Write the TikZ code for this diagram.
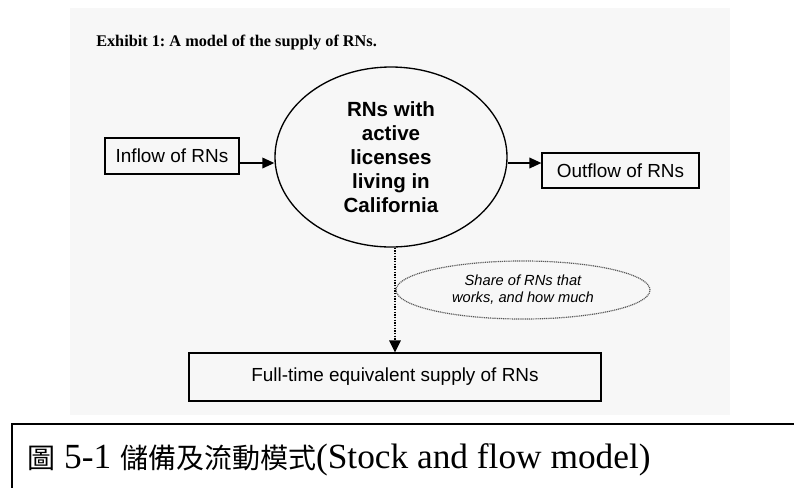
\documentclass[tikz,border=0pt]{standalone}
\usepackage{fontspec}
\setmainfont{Liberation Serif}
\setsansfont{Liberation Sans}
\newfontfamily\cjkfont{Noto Sans CJK TC}
\usetikzlibrary{arrows.meta,shapes.geometric}
\frenchspacing

\tikzset{
  flowbox/.style={draw, line width=0.9pt, inner sep=0pt, font=\sffamily\fontsize{14.2}{17}\selectfont},
  stockshape/.style={draw, ellipse, line width=1pt, inner sep=0pt, align=center,
    font=\sffamily\bfseries\fontsize{15.4}{18}\selectfont},
  noteshape/.style={draw=black!65, ellipse, line width=0.9pt, dash pattern=on 0.8pt off 0.6pt,
    inner sep=0pt, align=center, font=\sffamily\itshape\fontsize{11}{12.8}\selectfont},
  flowarrow/.style={line width=1.1pt, -{Triangle[length=9pt,width=8pt]}},
  dotarrow/.style={line width=1.6pt, dash pattern=on 1.1pt off 0.9pt, -{Triangle[length=9pt,width=8.5pt]}},
}
\newcommand{\cjktext}[1]{{\cjkfont\fontsize{21}{26}\selectfont #1}}

\begin{document}
\begin{tikzpicture}[x=0.75pt, y=-0.75pt]
\useasboundingbox (0,0) rectangle (794,487);

% light page area
\fill[black!3] (70,8) rectangle (730,415);

% title
\node[anchor=base west, inner sep=0pt, font=\bfseries\fontsize{12.2}{15}\selectfont] (title) at (96,46)
  {Exhibit 1: A model of the supply of RNs.};

% stock
\node[stockshape, minimum width=232*0.75pt, minimum height=180*0.75pt] (stock) at (391,157)
  {RNs with\\active\\licenses\\living in\\California};

% flows
\node[flowbox, minimum width=134*0.75pt, minimum height=36*0.75pt] (inflow) at (172,156) {Inflow of RNs};
\node[flowbox, minimum width=157*0.75pt, minimum height=35*0.75pt] (outflow) at (620.5,170.5) {Outflow of RNs};
\node[flowbox, minimum width=412*0.75pt, minimum height=48*0.75pt] (fte) at (395,377) {Full-time equivalent supply of RNs};

% note on the work share
\node[noteshape, minimum width=254*0.75pt, minimum height=58*0.75pt] (share) at (523,290)
  {Share of RNs that\\works, and how much};

\coordinate (flowy) at (0,163);
\draw[flowarrow] (inflow.east |- flowy) -- (stock.west |- flowy);
\draw[flowarrow] (stock.east |- flowy) -- (outflow.west |- flowy);
\draw[dotarrow] (fte.north |- stock.south) -- (fte.north);

% caption frame
\draw[line width=1.5pt] (800,424) -- (12,424) -- (12,500);
\node[anchor=base west, inner sep=0pt, font=\fontsize{26.5}{31}\selectfont] (caption) at (27,468)
  {\cjktext{圖} 5-1 \cjktext{儲備及流動模式}(Stock and flow model)};
\end{tikzpicture}
\end{document}
